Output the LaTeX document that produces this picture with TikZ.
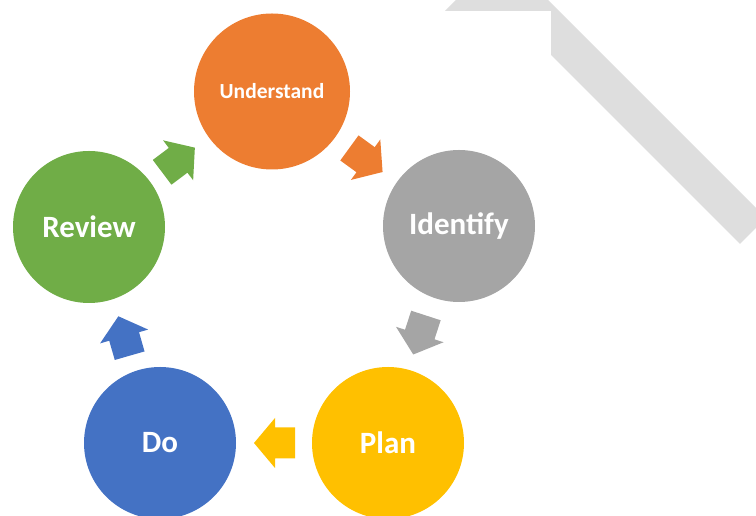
\documentclass[tikz,border=0pt]{standalone}
\usepackage{fontspec}
\setmainfont{Carlito}
\definecolor{cOrange}{HTML}{ED7D31}
\definecolor{cGray}{HTML}{A5A5A5}
\definecolor{cGold}{HTML}{FFC000}
\definecolor{cBlue}{HTML}{4472C4}
\definecolor{cGreen}{HTML}{70AD47}
\definecolor{cBand}{HTML}{DEDEDE}
\tikzset{
  stage/.style={circle, draw=none, minimum size=152pt, inner sep=0pt,
    text=white, font=\bfseries\fontsize{31}{31}\selectfont},
  blockarrow/.pic={
    \fill[pic actions] (-20.5,-15.5) -- (-0.5,-15.5) -- (-0.5,-25) -- (20.5,0)
      -- (-0.5,25) -- (-0.5,15.5) -- (-20.5,15.5) -- cycle;
  }
}
\begin{document}
\begin{tikzpicture}[x=1pt, y=1pt]
  \useasboundingbox (0,0) rectangle (756,516);
  % light grey band in the upper right corner
  \fill[cBand] (456,516) -- (548,516) -- (766,298) -- (740,272) -- (551,461)
    -- (551,505) -- (445,505) -- cycle;

  % the five stages of the cycle
  \node[stage, fill=cOrange, minimum size=156pt,
        font=\bfseries\fontsize{21.5}{21.5}\selectfont] (understand) at (272,424.5) {Understand};
  \node[stage, fill=cGray]  (identify) at (459,290) {Identify};
  \node[stage, fill=cGold]  (plan)     at (388,73)  {Plan};
  \node[stage, fill=cBlue]  (do)       at (160,73)  {Do};
  \node[stage, fill=cGreen] (review)   at (89,289)  {Review};

  % block arrows between the stages
  \pic[fill=cOrange, rotate=-36]  at (366,356)   {blockarrow};
  \pic[fill=cGray,   rotate=-108] at (419.6,181) {blockarrow};
  \pic[fill=cGold,   rotate=180]  at (274.5,73)  {blockarrow};
  \pic[fill=cBlue,   rotate=106]  at (124,180)   {blockarrow};
  \pic[fill=cGreen,  rotate=37]   at (178.5,356) {blockarrow};
\end{tikzpicture}
\end{document}
